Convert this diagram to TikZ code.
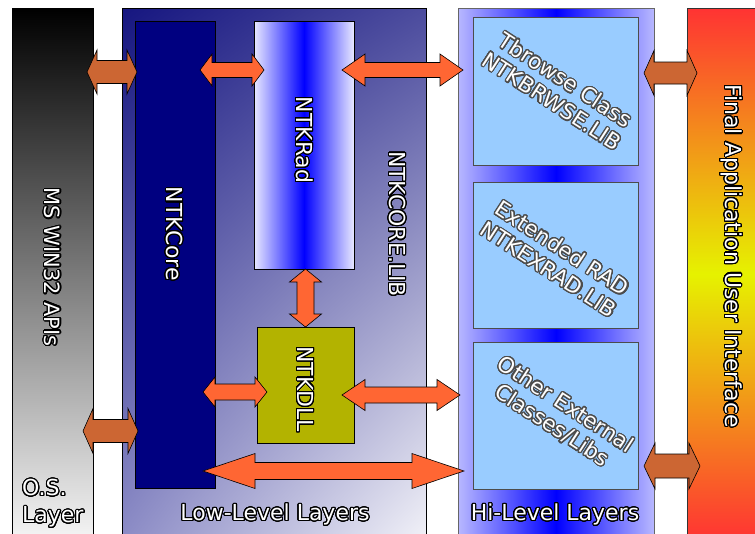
\documentclass[tikz,border=0pt]{standalone}
\usepackage{fontspec}
\setmainfont{DejaVu Sans}
\usepackage{contour}
\contourlength{1.1pt}
\contournumber{32}
\usetikzlibrary{calc,positioning,shadings}

\definecolor{arrorange}{HTML}{FF6633}
\definecolor{arrbrown}{HTML}{CC6633}
\definecolor{corenavy}{HTML}{000080}
\definecolor{dllolive}{HTML}{B3B300}
\definecolor{radedge}{HTML}{E8E8FF}
\definecolor{hiedge}{HTML}{B8B8FF}
\definecolor{hibox}{HTML}{99CCFF}
\definecolor{lowtl}{HTML}{161680}
\definecolor{lowtr}{HTML}{4C4C9E}
\definecolor{lowbl}{HTML}{8C8CC6}
\definecolor{lowbr}{HTML}{F2F2F8}
\definecolor{appred}{HTML}{FF3333}
\definecolor{appyellow}{HTML}{E6F200}

\newcommand{\outl}[1]{\contour{black}{#1}}
\newcommand{\goutl}[1]{\contour{black!70}{#1}}

\tikzset{
  panel/.style={draw=black, line width=0.8pt, inner sep=0pt, outer sep=0pt, anchor=north west},
  hibx/.style={panel, draw=black!70, fill=hibox, minimum width=165pt},
  lbl/.style={text=white, inner sep=0pt, font=\fontsize{22}{27}\selectfont},
  vlbl/.style={lbl, rotate=-90},
  hilbl/.style={lbl, align=center, rotate=-33, font=\fontsize{21.5}{25}\selectfont},
  orarrow/.style={draw=black, line width=0.6pt, fill=arrorange},
  brarrow/.style={draw=black, line width=0.6pt, fill=arrbrown},
  dbl/.style n args={3}{to path={
    (\tikztostart) coordinate (ts) (\tikztotarget) coordinate (tt)
    ($(ts)!#1!(tt)$) coordinate (hs) ($(tt)!#1!(ts)$) coordinate (he)
    (ts) -- ($(hs)!#2!90:(tt)$) -- ($(hs)!#3!90:(tt)$)
    -- ($(he)!#3!-90:(ts)$) -- ($(he)!#2!-90:(ts)$) -- (tt)
    -- ($(he)!#2!90:(ts)$) -- ($(he)!#3!90:(ts)$)
    -- ($(hs)!#3!-90:(tt)$) -- ($(hs)!#2!-90:(tt)$) -- cycle}}
}

\begin{document}
\begin{tikzpicture}[x=1pt,y=-1pt]
  \useasboundingbox (0,0) rectangle (755,533);

  \node[panel, top color=black, bottom color=white!96!black, minimum width=81pt, minimum height=532pt] (os) at (12,8) {};
  \node[panel, upper left=lowtl, upper right=lowtr, lower left=lowbl, lower right=lowbr, minimum width=304pt, minimum height=532pt] (low) at (122,8) {};
  \node[panel, fill=corenavy, minimum width=80pt, minimum height=467pt] (core) at (135,21) {};
  \node[panel, left color=radedge, right color=radedge, middle color=blue, minimum width=100pt, minimum height=248pt] (rad) at (254,21) {};
  \node[panel, fill=dllolive, minimum width=97pt, minimum height=116pt] (dll) at (257,327) {};
  \node[panel, draw=black!60, left color=hiedge, right color=hiedge, middle color=blue, minimum width=196pt, minimum height=532pt] (hi) at (458,8) {};
  \node[hibx, minimum height=148pt] (hb1) at (473,17) {};
  \node[hibx, minimum height=146pt, below=17pt of hb1] (hb2) {};
  \node[hibx, minimum height=147pt, below=14pt of hb2] (hb3) {};
  \node[panel, draw=black!80, top color=appred, bottom color=appred, middle color=appyellow, minimum width=75pt, minimum height=532pt] (app) at (687,8) {};

  \node[vlbl, font=\fontsize{21}{25}\selectfont] (ostxt) at (52,267) {\outl{MS WIN32 APIs}};
  \node[lbl, align=left, anchor=west] (oslay) at (22,504) {\outl{O.S.}\\\outl{Layer}};
  \node[vlbl] (coretxt) at (174,234) {\outl{NTKCore}};
  \node[vlbl] (radtxt) at (304,140) {\outl{NTKRad}};
  \node[vlbl] (libtxt) at (397,224) {\outl{NTKCORE.LIB}};
  \node[vlbl] (dlltxt) at (305,389) {\outl{NTKDLL}};
  \node[lbl] (lowtxt) at (275,515) {\outl{Low-Level Layers}};
  \node[hilbl] (hb1txt) at ([xshift=3pt]hb1) {\goutl{Tbrowse Class}\\\goutl{NTKBRWSE.LIB}};
  \node[hilbl] (hb2txt) at ([yshift=-4pt]hb2) {\goutl{Extended RAD}\\\goutl{NTKEXRAD.LIB}};
  \node[hilbl] (hb3txt) at ([xshift=3pt]hb3) {\goutl{Other External}\\\goutl{Classes/Libs}};
  \node[lbl] (hitxt) at (555,515) {\outl{Hi-Level Layers}};
  \node[vlbl] (apptxt) at (731,256) {\outl{Final Application User Interface}};

  \draw[brarrow] ([xshift=-6pt]os.east |- 0,72) to[dbl={10pt}{22pt}{11.5pt}] ([xshift=2pt]core.west |- 0,72);
  \draw[brarrow] ([xshift=-10pt]os.east |- 0,431) to[dbl={10pt}{22.5pt}{11.5pt}] ([xshift=3pt]core.west |- 0,431);
  \draw[orarrow] ([xshift=-15pt]core.east |- 0,70) to[dbl={12pt}{16pt}{7.5pt}] ([xshift=10pt]rad.west |- 0,70);
  \draw[orarrow] ([xshift=-12pt]rad.east |- 0,70) to[dbl={23pt}{16pt}{7.5pt}] ([xshift=5pt]hi.west |- 0,70);
  \draw[orarrow] (dll.north |- rad.south) to[dbl={13pt}{16pt}{8.5pt}] (dll.north);
  \draw[orarrow] ([xshift=-12pt]core.east |- 0,392) to[dbl={12pt}{15pt}{8pt}] ([xshift=10pt]dll.west |- 0,392);
  \draw[orarrow] ([xshift=-12pt]dll.east |- 0,395) to[dbl={23pt}{15.5pt}{8pt}] ([xshift=2pt]hi.west |- 0,395);
  \draw[orarrow] ([xshift=-12pt]core.east |- 0,471) to[dbl={52pt}{17.5pt}{8.5pt}] ([xshift=6pt]hi.west |- 0,471);
  \draw[brarrow] ([xshift=-10pt]hi.east |- 0,73) to[dbl={10pt}{22.5pt}{11pt}] ([xshift=10pt]app.west |- 0,73);
  \draw[brarrow] ([xshift=-10pt]hi.east |- 0,466) to[dbl={11pt}{23pt}{12pt}] ([xshift=13pt]app.west |- 0,466);
\end{tikzpicture}
\end{document}
